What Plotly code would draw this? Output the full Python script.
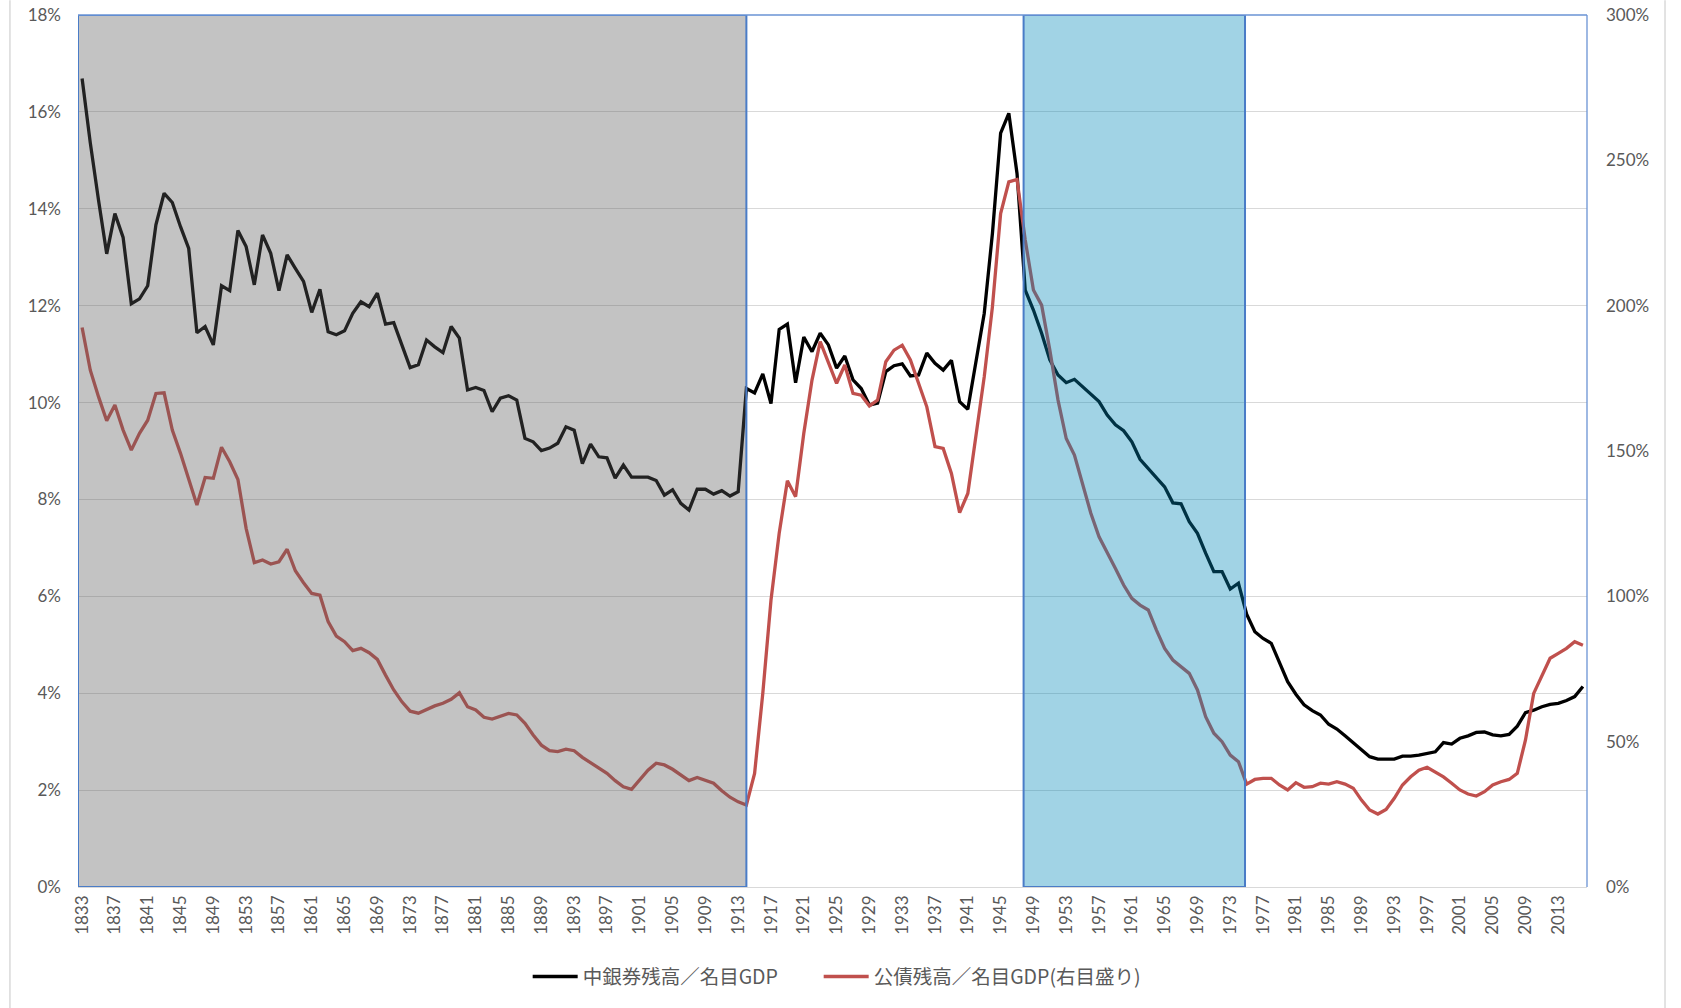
import plotly.graph_objects as go

# ---------------- data ----------------
years = list(range(1833, 2017))

# 中銀券残高／名目GDP (%), left axis
banknotes_gdp = [
    16.69, 15.36, 14.18, 13.07, 13.90, 13.41, 12.04,                      # 1833-1839
    12.14, 12.41, 13.67, 14.32, 14.13, 13.63, 13.18, 11.44, 11.57, 11.19,  # 1840s
    12.41, 12.31, 13.55, 13.22, 12.43, 13.46, 13.08, 12.31, 13.05, 12.77,  # 1850s
    12.50, 11.86, 12.34, 11.46, 11.40, 11.48, 11.84, 12.08, 11.98, 12.26,  # 1860s
    11.62, 11.65, 11.19, 10.72, 10.78, 11.29, 11.15, 11.03, 11.57, 11.33,  # 1870s
    10.26, 10.31, 10.25, 9.81, 10.09, 10.14, 10.05, 9.26, 9.19, 9.01,      # 1880s
    9.06, 9.16, 9.50, 9.43, 8.74, 9.14, 8.88, 8.86, 8.44, 8.71,            # 1890s
    8.46, 8.46, 8.46, 8.39, 8.09, 8.20, 7.92, 7.78, 8.21, 8.21,            # 1900s
    8.11, 8.18, 8.07, 8.16, 10.29, 10.20, 10.59, 9.98, 11.51, 11.62,       # 1910s
    10.41, 11.35, 11.05, 11.43, 11.19, 10.71, 10.96, 10.47, 10.29, 9.95,   # 1920s
    9.99, 10.64, 10.76, 10.80, 10.55, 10.57, 11.02, 10.81, 10.67, 10.87,   # 1930s
    10.02, 9.86, 10.88, 11.84, 13.49, 15.56, 15.97, 14.73, 12.32, 11.91,   # 1940s
    11.43, 10.88, 10.57, 10.41, 10.48, 10.33, 10.16, 10.02, 9.74, 9.54,    # 1950s
    9.42, 9.19, 8.83, 8.64, 8.44, 8.26, 7.93, 7.91, 7.54, 7.30,            # 1960s
    6.89, 6.51, 6.51, 6.15, 6.27, 5.63, 5.27, 5.13, 5.03, 4.62,            # 1970s
    4.24, 3.98, 3.76, 3.64, 3.55, 3.36, 3.26, 3.12, 2.97, 2.84,            # 1980s
    2.69, 2.64, 2.64, 2.64, 2.70, 2.70, 2.72, 2.75, 2.79, 2.98,            # 1990s
    2.95, 3.07, 3.12, 3.19, 3.20, 3.14, 3.12, 3.15, 3.32, 3.60,            # 2000s
    3.65, 3.72, 3.77, 3.79, 3.85, 3.93, 4.14,                              # 2010-2016
]

# 公債残高／名目GDP (%), right axis
debt_gdp = [
    192.5, 177.8, 168.7, 160.4, 165.8, 157.2, 150.3,                       # 1833-1839
    156.1, 160.6, 169.8, 170.0, 157.2, 149.2, 140.0, 131.4, 140.9, 140.6,  # 1840s
    151.3, 146.3, 140.2, 123.4, 111.6, 112.5, 111.1, 111.9, 116.2, 108.8,  # 1850s
    104.7, 101.0, 100.4, 91.3, 86.3, 84.4, 81.3, 82.1, 80.6, 78.3,         # 1860s
    72.9, 67.8, 63.7, 60.5, 59.8, 61.1, 62.3, 63.2, 64.6, 66.8,            # 1870s
    62.0, 60.9, 58.4, 57.8, 58.8, 59.7, 59.2, 56.3, 52.3, 48.8,            # 1880s
    46.9, 46.6, 47.4, 46.9, 44.6, 42.8, 40.8, 39.1, 36.6, 34.5,            # 1890s
    33.6, 37.0, 40.2, 42.6, 42.0, 40.5, 38.5, 36.6, 37.7, 36.8,            # 1900s
    35.7, 33.1, 30.9, 29.3, 28.2, 39.1, 66.6, 98.7, 121.7, 139.8,          # 1910s
    134.3, 156.1, 174.4, 187.6, 180.2, 173.3, 179.6, 169.8, 169.2, 165.5,  # 1920s
    167.5, 180.7, 184.7, 186.4, 181.3, 173.3, 165.2, 151.5, 150.9, 142.3,  # 1930s
    128.8, 135.4, 156.1, 175.5, 199.6, 231.7, 242.6, 243.4, 222.6, 205.4,  # 1940s
    200.2, 184.7, 167.5, 154.3, 148.6, 138.9, 128.6, 120.5, 115.3, 109.6,  # 1950s
    103.9, 99.3, 97.0, 95.3, 88.4, 82.1, 78.1, 75.8, 73.5, 67.8,           # 1960s
    58.6, 52.9, 50.0, 45.4, 43.1, 35.4, 37.0, 37.4, 37.4, 35.1,            # 1970s
    33.4, 35.9, 34.3, 34.5, 35.7, 35.4, 36.2, 35.4, 34.0, 29.9,            # 1980s
    26.5, 25.1, 26.7, 30.5, 35.1, 37.9, 40.2, 41.2, 39.7, 37.9,            # 1990s
    35.7, 33.4, 32.0, 31.3, 32.8, 35.1, 36.2, 37.0, 39.1, 50.6,            # 2000s
    66.6, 72.6, 78.7, 80.4, 82.1, 84.4, 83.2,                              # 2010-2016
]

tick_years = years[::4]
tick_labels = [str(y) for y in tick_years]

series_names = ["中銀券残高／名目GDP", "公債残高／名目GDP(右目盛り)"]

assert len(banknotes_gdp) == len(years) == len(debt_gdp)

# ---------------- figure ----------------
TXT = "#595959"
NUMFONT = "Lato, 'Liberation Sans', sans-serif"
JPFONT = "'Noto Sans CJK JP', sans-serif"

fig = go.Figure()
fig.add_trace(go.Scatter(
    x=years, y=banknotes_gdp, name=series_names[0], mode="lines",
    line=dict(color="#000000", width=3.3), yaxis="y", legendwidth=231,
))
fig.add_trace(go.Scatter(
    x=years, y=debt_gdp, name=series_names[1], mode="lines",
    line=dict(color="#C0504D", width=3.3), yaxis="y2", legendwidth=300,
))

# shaded periods (drawn above the lines, semi-transparent like the original)
fig.add_shape(type="rect", xref="x", yref="y", x0=1832.5, x1=1914.0, y0=0, y1=18,
              fillcolor="rgba(92,92,92,0.37)", line=dict(color="#4A7CC7", width=2),
              layer="above")
fig.add_shape(type="rect", xref="x", yref="y", x0=1947.8, x1=1974.8, y0=0, y1=18,
              fillcolor="rgba(0,136,185,0.37)", line=dict(color="#4A7CC7", width=2),
              layer="above")
# thin blue frame on top / right of plot area
fig.add_shape(type="line", xref="paper", yref="paper", x0=0, x1=1, y0=1, y1=1,
              line=dict(color="#6A93D4", width=1.3), layer="above")
fig.add_shape(type="line", xref="paper", yref="paper", x0=1, x1=1, y0=0, y1=1,
              line=dict(color="#6A93D4", width=1.3), layer="above")
# chart-area border (left / right)
for xp in (-0.0451, 1.0517):
    fig.add_shape(type="line", xref="paper", yref="paper", x0=xp, x1=xp,
                  y0=-0.139, y1=1.017, line=dict(color="#D9D9D9", width=1.5))

fig.update_layout(
    width=1681, height=1008,
    margin=dict(l=78, r=94, t=15, b=121, autoexpand=False),
    paper_bgcolor="white", plot_bgcolor="white",
    font=dict(family=NUMFONT, color=TXT, size=17),
    showlegend=True,
    legend=dict(orientation="h", x=0.298, xanchor="left", y=-0.103, yanchor="middle",
                font=dict(family=JPFONT, size=19.5, color=TXT),
                itemwidth=45, bgcolor="rgba(0,0,0,0)"),
    xaxis=dict(
        range=[1832.5, 2016.5], tickmode="array", tickvals=tick_years, ticktext=tick_labels,
        tickangle=-90, tickfont=dict(family=NUMFONT, size=17, color=TXT),
        showgrid=False, zeroline=False, showline=False, ticks="", ticklabelstandoff=4,
    ),
    yaxis=dict(
        range=[0, 18], dtick=2, ticksuffix="%", tickfont=dict(family=NUMFONT, size=17, color=TXT),
        showgrid=True, gridcolor="#D9D9D9", gridwidth=1.3, zeroline=True,
        zerolinecolor="#D9D9D9", zerolinewidth=1.3, showline=False, ticks="",
        ticklabelstandoff=16, ticklabeloverflow="allow",
    ),
    yaxis2=dict(
        range=[0, 300], dtick=50, ticksuffix="%", overlaying="y", side="right",
        tickfont=dict(family=NUMFONT, size=17, color=TXT),
        showgrid=False, zeroline=False, showline=False, ticks="", ticklabelstandoff=18,
        ticklabeloverflow="allow",
    ),
)

fig.write_html("out.html", config={"displayModeBar": False},
               post_script="document.body.style.margin='0px';")
